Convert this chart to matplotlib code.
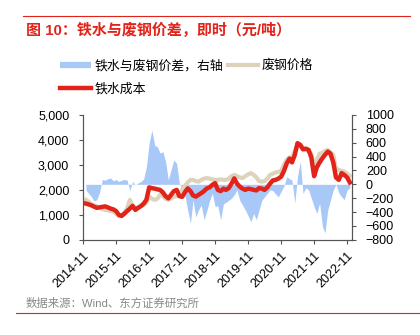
import pandas as pd
import matplotlib.pyplot as plt
import matplotlib.dates as mdates
from matplotlib.lines import Line2D

plt.rcParams['font.family'] = ['Liberation Sans', 'Noto Sans CJK SC']

# 月度数据 2014-12 ~ 2022-12
fechas = pd.date_range('2014-12-01', periods=97, freq='MS')

hot_metal_cost = [
    1450, 1420, 1380, 1330, 1280, 1300, 1320, 1340, 1300, 1250, 1220, 1150,
    1000, 960, 1050, 1150, 1250, 1360, 1200, 1280, 1350, 1450, 1600, 2100,
    2070, 2050, 2020, 2000, 1900, 1750, 1660, 1800, 1950, 2000, 1750, 1720,
    1900, 2060, 1950, 1780, 1730, 1800, 1870, 1950, 2060, 2100, 2200, 2270,
    2000, 1950, 2050, 2000, 2070, 2250, 2460, 2250, 2130, 2050, 2000, 2050,
    2030, 2000, 1980, 2070, 2050, 2000, 2100, 2250, 2380, 2400, 2450, 2530,
    2750, 3050, 3250, 3100, 3400, 3870, 3800, 3620, 3650, 3600, 3300, 2550,
    2900, 3100, 3270, 3400, 3530, 3450, 3100, 2500, 2400, 2670, 2600, 2500, 2300,
]

scrap_price = [
    1600, 1520, 1420, 1380, 1350, 1300, 1230, 1200, 1180, 1150, 1130, 1050,
    950, 950, 1100, 1250, 1600, 1350, 1270, 1300, 1350, 1400, 1500, 1730,
    1650, 1600, 1650, 1800, 1750, 1650, 1600, 1650, 1730, 1750, 1850, 2000,
    2150, 2300, 2400, 2400, 2350, 2330, 2400, 2450, 2470, 2450, 2420, 2400,
    2400, 2420, 2400, 2400, 2450, 2550, 2600, 2550, 2500, 2470, 2550, 2620,
    2670, 2600, 2500, 2350, 2330, 2350, 2450, 2600, 2650, 2700, 2720, 2750,
    3000, 3200, 3300, 3300, 3550, 3800, 3750, 3680, 3600, 3550, 3450, 2870,
    3200, 3450, 3480, 3550, 3600, 3500, 3400, 2850, 2800, 2760, 2730, 2650, 2560,
]

spread = [
    -80, -130, -180, -240, -220, -120, 70, 60, 80, 90, 50, 70,
    40, 60, 70, 60, -90, 40, -10, 20, 40, 80, 250, 600,
    780, 560, 540, 450, 470, 330, 60, 210, 350, 300, 10, -60,
    -150, -370, -560, -230, -470, -370, -300, -510, -380, -230, -130, -320,
    -310, -510, -280, -260, -230, -200, -150, -80, -230, -300, -370, -450,
    -540, -420, -510, -370, -230, -180, -130, -80, -90, -140, -180, -100,
    -30, 110, 80, 60, -270, 110, 330, -130, -50, -80, -200, -320,
    -420, -270, -610, -700, -370, -230, -80, 0, -120, -180, -220, -80, -50,
]

rojo = '#e2231a'
azul = '#a8c8f8'
beige = '#ddd3bd'

fig = plt.figure(figsize=(4.2, 3.35), dpi=100)
ax_r = fig.add_axes([0.198, 0.284, 0.640, 0.373])
ax_l = ax_r.twinx()

# 价差（右轴）
ax_r.fill_between(fechas, 0, spread, color=azul, linewidth=0)
ax_r.yaxis.tick_right()
ax_r.set_ylim(-800, 1000)
ax_r.set_yticks(range(-800, 1001, 200))

# 价格（左轴）
ax_l.yaxis.tick_left()
ax_l.plot(fechas, scrap_price, color=beige, lw=3.0)
ax_l.plot(fechas, hot_metal_cost, color=rojo, lw=3.2)
ax_l.set_ylim(0, 5000)
ax_l.set_yticks(range(0, 5001, 1000))
ax_l.yaxis.set_major_formatter(plt.FuncFormatter(lambda v, p: f'{int(v):,}'))

ax_r.set_xlim(pd.Timestamp('2014-11-01'), pd.Timestamp('2022-12-25'))
ax_r.set_xticks(pd.date_range('2014-11-01', periods=9, freq='12MS'))
ax_r.xaxis.set_major_formatter(mdates.DateFormatter('%Y-%m'))

for a in (ax_r, ax_l):
    a.spines['top'].set_visible(False)
    for s in ('left', 'right', 'bottom'):
        a.spines[s].set_color('#555555')
        a.spines[s].set_linewidth(0.8)
    a.tick_params(labelsize=9, length=3, width=0.8, color='#555555', pad=2)
    a.patch.set_visible(False)

ax_r.tick_params(axis='y', labelright=True, labelleft=False, pad=7)
ax_l.tick_params(axis='y', labelleft=True, labelright=False, pad=7)
for lab in ax_r.get_xticklabels():
    lab.set_rotation(45)
    lab.set_ha('right')
    lab.set_rotation_mode('anchor')
ax_r.tick_params(axis='x', labelsize=9, pad=4)

# 图例
handles = [
    Line2D([], [], color=azul, lw=4.5, solid_capstyle='butt', label='铁水与废钢价差，右轴'),
    Line2D([], [], color=rojo, lw=3.2, label='铁水成本'),
    Line2D([], [], color=beige, lw=3.0, label='废钢价格'),
]
fig.legend(handles=handles, ncol=2, loc='upper left', bbox_to_anchor=(0.128, 0.842),
           frameon=False, fontsize=9.3, handlelength=2.35,
           handletextpad=0.3, columnspacing=0.35, labelspacing=0.85, borderpad=0)

# 标题与来源
fig.text(0.062, 0.910, '图 10：铁水与废钢价差，即时（元/吨）', color=rojo,
         fontsize=10.8, fontweight='bold', va='center')
fig.add_artist(Line2D([0.055, 0.975], [0.953, 0.953], color=rojo, lw=0.8))
fig.text(0.062, 0.094, '数据来源：Wind、东方证券研究所', color='#888888',
         fontsize=8.2, va='center')
fig.add_artist(Line2D([0.038, 1.0], [0.067, 0.067], color=rojo, lw=0.8))

fig.savefig('out.png', dpi=100)
